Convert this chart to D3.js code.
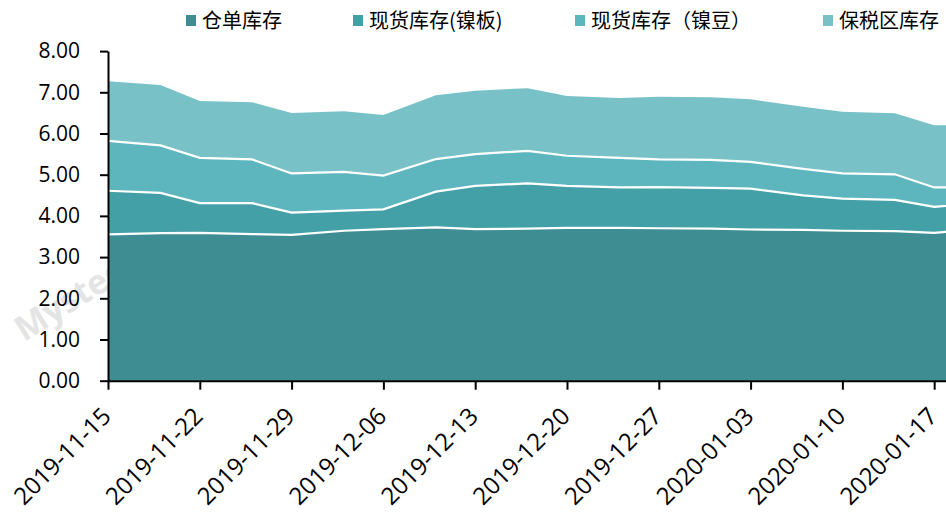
<!DOCTYPE html>
<html>
<head>
<meta charset="utf-8">
<script src="https://cdn.jsdelivr.net/npm/d3@7"></script>
<style>
  html, body { margin: 0; padding: 0; background: #fff; }
  svg { display: block; }
</style>
</head>
<body>
<svg id="chart" width="946" height="512"></svg>
<script>
// ---- data ----
const dates = ["2019-11-15","2019-11-19","2019-11-22","2019-11-26","2019-11-29","2019-12-03","2019-12-06",
  "2019-12-10","2019-12-13","2019-12-17","2019-12-20","2019-12-24","2019-12-27","2019-12-31",
  "2020-01-03","2020-01-07","2020-01-10","2020-01-14","2020-01-17","2020-01-21"];
const seriesNames = ["仓单库存", "现货库存(镍板)", "现货库存（镍豆）", "保税区库存"];
const warehouse = [3.55,3.58,3.59,3.56,3.54,3.64,3.68,3.72,3.68,3.69,3.71,3.71,3.70,3.69,3.67,3.66,3.64,3.63,3.59,3.68];
const spotPlate = [1.06,0.98,0.72,0.75,0.54,0.49,0.48,0.87,1.05,1.10,1.02,0.98,1.00,0.99,0.99,0.84,0.78,0.76,0.63,0.65];
const spotBean  = [1.21,1.15,1.10,1.06,0.95,0.94,0.82,0.79,0.77,0.79,0.73,0.72,0.67,0.68,0.65,0.64,0.61,0.62,0.47,0.36];
const bonded    = [1.45,1.47,1.38,1.39,1.47,1.47,1.47,1.55,1.54,1.52,1.45,1.45,1.52,1.52,1.52,1.51,1.50,1.48,1.51,1.51];
const xTickLabels = ["2019-11-15","2019-11-22","2019-11-29","2019-12-06","2019-12-13","2019-12-20",
  "2019-12-27","2020-01-03","2020-01-10","2020-01-17"];
const yTicks = [0,1,2,3,4,5,6,7,8];

// ---- setup ----
const colors = ["#3e8d93", "#44a0a7", "#5db6bd", "#78c1c6"];
const parse = d3.timeParse("%Y-%m-%d");
const fmt = d3.timeFormat("%Y-%m-%d");
const svg = d3.select("#chart");

const rows = dates.map((d, i) => ({
  date: parse(d),
  s0: warehouse[i], s1: spotPlate[i], s2: spotBean[i], s3: bonded[i]
}));

const x0 = 108, dayPx = 13.114;
const dStart = parse(dates[0]), dEnd = parse(dates[dates.length - 1]);
const nDays = (dEnd - dStart) / 864e5;
const x = d3.scaleTime().domain([dStart, dEnd]).range([x0, x0 + nDays * dayPx]);
const y = d3.scaleLinear().domain([0, 8]).range([380.7, 51.1]);

// watermark
svg.append("text")
  .attr("transform", "translate(24,342) rotate(-32)")
  .attr("font-family", "Open Sans, sans-serif")
  .attr("font-size", 34).attr("font-weight", "bold")
  .attr("fill", "#d9d9d9").attr("opacity", 0.7)
  .text("Mysteel");

const stack = d3.stack().keys(["s0", "s1", "s2", "s3"]);
const layers = stack(rows);

const area = d3.area()
  .x(d => x(d.data.date))
  .y0(d => y(d[0]))
  .y1(d => y(d[1]));
const topLine = d3.line()
  .x(d => x(d.data.date))
  .y(d => y(d[1]));

const g = svg.append("g");
g.selectAll("path.area").data(layers).join("path")
  .attr("class", "area")
  .attr("d", area)
  .attr("fill", (d, i) => colors[i]);
g.selectAll("path.sep").data(layers.slice(0, 3)).join("path")
  .attr("class", "sep")
  .attr("d", topLine)
  .attr("fill", "none")
  .attr("stroke", "#fff")
  .attr("stroke-width", 2.2);

// axes
const xAxis = d3.axisBottom(x)
  .tickValues(xTickLabels.map(parse))
  .tickFormat(fmt)
  .tickSizeInner(9).tickSizeOuter(0);
const gx = svg.append("g").attr("transform", `translate(0,${y(0)})`).call(xAxis);
gx.select(".domain").attr("stroke", "#000").attr("stroke-width", 2);
gx.selectAll(".tick line").attr("stroke", "#000").attr("stroke-width", 2);
gx.selectAll(".tick text")
  .attr("font-family", "Open Sans, sans-serif")
  .attr("font-size", 24)
  .attr("fill", "#000")
  .attr("text-anchor", "end")
  .attr("x", 0).attr("y", 0).attr("dy", 0)
  .attr("transform", "translate(4,37) rotate(-45)");

const yAxis = d3.axisLeft(y)
  .tickValues(yTicks)
  .tickFormat(d3.format(".2f"))
  .tickSizeInner(8).tickSizeOuter(0).tickPadding(20);
const gy = svg.append("g").attr("transform", `translate(${x0},0)`).call(yAxis);
gy.select(".domain").attr("stroke", "#000").attr("stroke-width", 2);
gy.selectAll(".tick line").attr("stroke", "#000").attr("stroke-width", 2);
gy.selectAll(".tick text")
  .attr("font-family", "Open Sans, sans-serif")
  .attr("font-size", 21)
  .attr("fill", "#000");

// legend
const legendX = [186, 353, 575, 823];
const lg = svg.append("g");
seriesNames.forEach((name, i) => {
  lg.append("rect").attr("x", legendX[i]).attr("y", 15).attr("width", 10).attr("height", 11)
    .attr("fill", colors[i]);
  lg.append("text").attr("x", legendX[i] + 16).attr("y", 21).attr("dy", "0.35em")
    .attr("font-family", "Noto Sans CJK SC, sans-serif")
    .attr("font-size", 20).attr("fill", "#000")
    .text(name);
});
</script>
</body>
</html>
